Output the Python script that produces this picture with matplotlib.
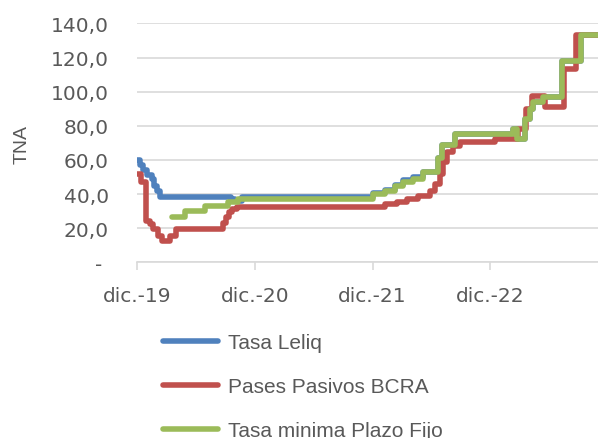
import pandas as pd
import matplotlib.pyplot as plt

# Tasa Leliq (step changes)
leliq_dates = ['2019-12-01', '2019-12-11', '2019-12-20', '2020-01-02', '2020-01-18',
               '2020-01-24', '2020-02-03', '2020-02-12', '2020-09-19', '2020-10-01',
               '2020-10-22', '2021-12-01', '2022-01-10', '2022-02-10', '2022-03-05',
               '2022-04-06', '2022-05-06', '2022-06-22', '2022-07-04', '2022-08-13',
               '2023-02-11', '2023-02-21', '2023-03-19', '2023-04-03', '2023-04-12',
               '2023-05-13', '2023-07-11', '2023-09-09', '2023-10-31']
leliq_vals = [60, 57, 54, 51, 49, 45, 42, 38, 37, 36,
              38, 40.5, 42.5, 45.5, 48, 50, 53, 61, 69, 75.5,
              78, 72.5, 84, 90, 94, 97, 118, 133, 133]

# Pases Pasivos BCRA
pases_dates = ['2019-12-01', '2019-12-14', '2019-12-30', '2020-01-11', '2020-01-21',
               '2020-02-06', '2020-02-18', '2020-03-13', '2020-04-01', '2020-08-25',
               '2020-09-04', '2020-09-13', '2020-09-22', '2020-10-07', '2022-01-10',
               '2022-02-15', '2022-03-17', '2022-04-21', '2022-05-28', '2022-06-13',
               '2022-06-28', '2022-07-07', '2022-07-19', '2022-08-07', '2022-08-30',
               '2022-12-16', '2023-02-24', '2023-03-22', '2023-04-09', '2023-05-19',
               '2023-07-19', '2023-08-25', '2023-10-31']
pases_vals = [52, 47, 24.5, 22.5, 19.6, 15.5, 12.5, 15.5, 19.6, 23,
              26.6, 29.5, 31.3, 32.5, 34.3, 35.4, 37.2, 39, 42, 46,
              52, 59, 64.8, 68.3, 70.7, 72.4, 78.3, 90, 97.7, 91.2,
              113.6, 133, 133]

# Tasa minima Plazo Fijo
pf_dates = ['2020-03-19', '2020-04-29', '2020-06-30', '2020-09-10', '2020-10-11',
            '2021-12-01', '2022-01-10', '2022-02-10', '2022-03-05', '2022-04-06',
            '2022-05-06', '2022-06-22', '2022-07-04', '2022-08-13', '2023-02-11',
            '2023-02-21', '2023-03-19', '2023-04-03', '2023-04-12', '2023-05-13',
            '2023-07-11', '2023-09-09', '2023-10-31']
pf_vals = [26.6, 30, 33, 35.5, 37, 40, 42, 45, 47, 49,
           53, 61, 68.5, 75, 78, 72.5, 84, 90, 94, 97,
           118, 133, 133]

tick_dates = ['2019-12-01', '2020-12-01', '2021-12-01', '2022-12-01']
tick_labels = ['dic.-19', 'dic.-20', 'dic.-21', 'dic.-22']
y_ticks = [0, 20, 40, 60, 80, 100, 120, 140]
y_labels = ['- ', '20,0', '40,0', '60,0', '80,0', '100,0', '120,0', '140,0']

series = [
    ('Tasa Leliq', leliq_dates, leliq_vals, '#4F81BD'),
    ('Pases Pasivos BCRA', pases_dates, pases_vals, '#C0504D'),
    ('Tasa minima Plazo Fijo', pf_dates, pf_vals, '#9BBB59'),
]

fig = plt.figure(figsize=(5.98, 4.39), dpi=100)
ax = fig.add_axes([0.2286, 0.4002, 0.7714, 0.5440])

for name, d, v, c in series:
    ax.plot(pd.to_datetime(d), v, drawstyle='steps-post', color=c, lw=4,
            solid_joinstyle='round', solid_capstyle='round', label=name)

ax.set_xlim(pd.Timestamp('2019-12-01'), pd.Timestamp('2023-10-31'))
ax.set_ylim(0, 140)
ax.set_yticks(y_ticks)
ax.set_yticklabels(y_labels, fontfamily='DejaVu Sans', fontsize=14.5, color='#595959')
ax.set_xticks(pd.to_datetime(tick_dates))
ax.set_xticklabels(tick_labels, fontfamily='DejaVu Sans', fontsize=14.5, color='#595959')
ax.tick_params(axis='y', length=0, pad=20)
ax.tick_params(axis='x', length=6, width=1.2, color='#D9D9D9', pad=11)
ax.grid(axis='y', color='#D9D9D9', lw=1.2)
ax.set_axisbelow(True)
for s in ['top', 'right', 'left']:
    ax.spines[s].set_visible(False)
ax.spines['bottom'].set_color('#D9D9D9')
ax.spines['bottom'].set_linewidth(1.2)

fig.text(22 / 598, 1 - 144 / 439, 'TNA', rotation=90, ha='center', va='center',
         fontfamily='Liberation Sans', fontsize=14, color='#595959')

leg = fig.legend(loc='upper left', bbox_to_anchor=(163 / 598, 1 - 334 / 439),
                 frameon=False, borderpad=0, borderaxespad=0, handlelength=2.64,
                 handletextpad=0.5, labelspacing=1.2,
                 prop={'family': 'Liberation Sans', 'size': 15})
for t in leg.get_texts():
    t.set_color('#595959')
for h in leg.get_lines():
    h.set_linewidth(4)
    h.set_solid_capstyle('round')

fig.savefig('out.png', dpi=100)
